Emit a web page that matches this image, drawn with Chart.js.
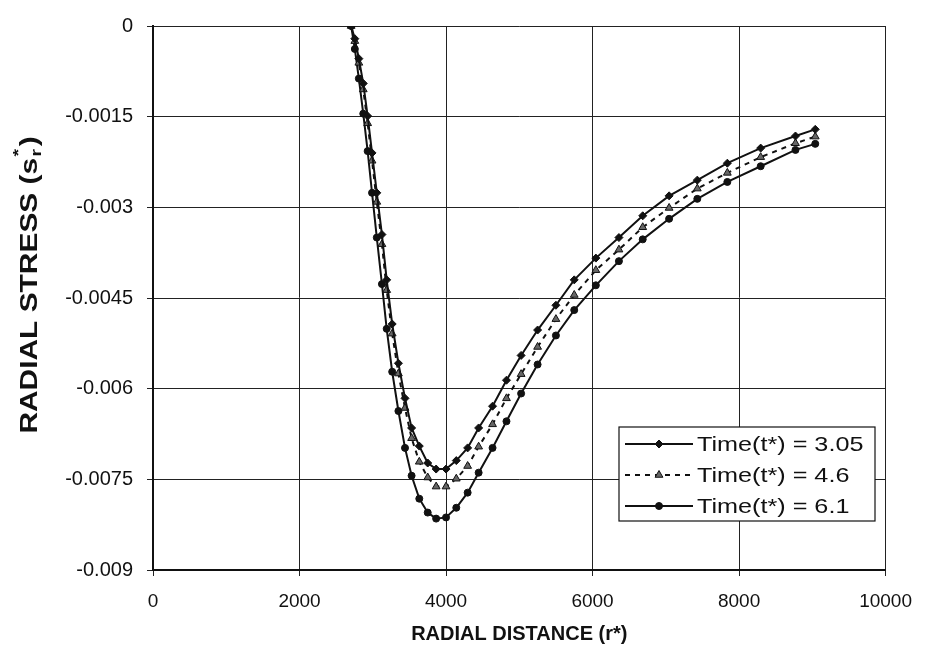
<!DOCTYPE html>
<html>
<head>
<meta charset="utf-8">
<script src="https://cdn.jsdelivr.net/npm/chart.js@4.4.1/dist/chart.umd.min.js"></script>
<style>
  html, body { margin: 0; padding: 0; background: #fff; }
  #wrap { width: 926px; height: 660px; }
</style>
</head>
<body>
<div id="wrap"><canvas id="chart" width="926" height="660"></canvas></div>
<script>
// --- Data ---
const radialDistance = [2705, 2755, 2810, 2870, 2930, 2990, 3055, 3125, 3190, 3265, 3350, 3440, 3530, 3635,
  3750, 3865, 4000, 4140, 4295, 4445, 4635, 4825, 5025, 5250, 5500, 5750, 6045, 6360, 6685, 7045, 7430,
  7840, 8295, 8770, 9040];

const stressT305 = [0, -0.00021, -0.00054, -0.00095, -0.00149, -0.00210, -0.00276, -0.00345, -0.00420,
  -0.00493, -0.00558, -0.00616, -0.00665, -0.00695, -0.00723, -0.00733, -0.00733, -0.00719, -0.00698,
  -0.00665, -0.00629, -0.00586, -0.00545, -0.00503, -0.00462, -0.00420, -0.00384, -0.00350, -0.00314,
  -0.00281, -0.00255, -0.00227, -0.00202, -0.00182, -0.00171];

const stressT46 = [0, -0.00025, -0.00061, -0.00105, -0.00161, -0.00223, -0.00291, -0.00361, -0.00437,
  -0.00509, -0.00575, -0.00632, -0.00682, -0.00721, -0.00747, -0.00762, -0.00762, -0.00749, -0.00728,
  -0.00696, -0.00659, -0.00616, -0.00576, -0.00531, -0.00485, -0.00445, -0.00404, -0.00370, -0.00333,
  -0.00301, -0.00269, -0.00243, -0.00217, -0.00194, -0.00183];

const stressT61 = [0, -0.00038, -0.00087, -0.00145, -0.00207, -0.00276, -0.00350, -0.00427, -0.00501,
  -0.00572, -0.00637, -0.00698, -0.00744, -0.00782, -0.00805, -0.00815, -0.00813, -0.00797, -0.00772,
  -0.00739, -0.00698, -0.00654, -0.00608, -0.00560, -0.00512, -0.00470, -0.00429, -0.00389, -0.00353,
  -0.00319, -0.00286, -0.00258, -0.00232, -0.00205, -0.00195];

const seriesLabels = ['Time(t*) = 3.05', 'Time(t*) = 4.6', 'Time(t*) = 6.1'];
const xTicks = [0, 2000, 4000, 6000, 8000, 10000];
const xTickLabels = ['0', '2000', '4000', '6000', '8000', '10000'];
const yTicks = [0, -0.0015, -0.003, -0.0045, -0.006, -0.0075, -0.009];
const yTickLabels = ['0', '-0.0015', '-0.003', '-0.0045', '-0.006', '-0.0075', '-0.009'];

const FONT = '"Liberation Sans", Arial, sans-serif';
const INK = '#111';

function toPoints(ys) {
  return radialDistance.map((x, i) => ({ x, y: ys[i] }));
}

// --- Series styles ---
const seriesStyles = [
  { pointStyle: 'rectRot', radius: 4, dash: [], fill: INK },
  { pointStyle: 'triangle', radius: 4.5, dash: [5, 5], fill: '#666' },
  { pointStyle: 'circle', radius: 3.5, dash: [], fill: INK }
];

const datasets = [stressT305, stressT46, stressT61].map((ys, i) => ({
  label: seriesLabels[i],
  data: toPoints(ys),
  borderColor: INK,
  borderWidth: 2,
  borderDash: seriesStyles[i].dash,
  pointStyle: seriesStyles[i].pointStyle,
  pointRadius: seriesStyles[i].radius,
  pointBackgroundColor: seriesStyles[i].fill,
  pointBorderColor: INK,
  pointBorderWidth: 1,
  tension: 0,
  fill: false
}));

// --- Y title with subscript / superscript, and the boxed legend ---
const extras = {
  id: 'extras',
  afterDraw(chart) {
    const ctx = chart.ctx;

    // y axis title (the scan's lettering is stretched along the axis)
    ctx.save();
    ctx.translate(31, 285);
    ctx.rotate(-Math.PI / 2);
    ctx.scale(1.3, 1);
    ctx.fillStyle = INK;
    ctx.textBaseline = 'middle';
    const big = 'bold 23px ' + FONT, small = 'bold 15px ' + FONT;
    ctx.font = big;
    const w1 = ctx.measureText('RADIAL STRESS (s').width;
    const w3 = ctx.measureText(')').width;
    ctx.font = small;
    const w2 = ctx.measureText('r').width + 3;
    const x0 = -(w1 + w2 + w3) / 2;
    ctx.font = big;
    ctx.textAlign = 'left';
    ctx.fillText('RADIAL STRESS (s', x0, 0);
    ctx.font = small;
    ctx.fillText('r', x0 + w1 + 1, 6);
    ctx.fillText('*', x0 + w1 + 1, -12);
    ctx.font = big;
    ctx.fillText(')', x0 + w1 + w2, 0);
    ctx.restore();

    // legend
    const box = { x: 619, y: 427, w: 256, h: 94 };
    ctx.save();
    ctx.fillStyle = '#fff';
    ctx.fillRect(box.x, box.y, box.w, box.h);
    ctx.strokeStyle = INK;
    ctx.lineWidth = 1.2;
    ctx.strokeRect(box.x, box.y, box.w, box.h);
    chart.data.datasets.forEach((ds, i) => {
      const y = box.y + 17 + i * 31;
      const st = seriesStyles[i];
      ctx.strokeStyle = INK;
      ctx.lineWidth = 2;
      ctx.setLineDash(st.dash);
      ctx.beginPath();
      ctx.moveTo(box.x + 6, y);
      ctx.lineTo(box.x + 74, y);
      ctx.stroke();
      ctx.setLineDash([]);
      ctx.fillStyle = st.fill;
      ctx.lineWidth = 1;
      Chart.helpers.drawPoint(ctx, { pointStyle: st.pointStyle, radius: st.radius, rotation: 0, borderWidth: 1 }, box.x + 40, y);
      ctx.save();
      ctx.translate(box.x + 78, y + 1);
      ctx.scale(1.2, 1);
      ctx.fillStyle = INK;
      ctx.font = '21px ' + FONT;
      ctx.textAlign = 'left';
      ctx.textBaseline = 'middle';
      ctx.fillText(ds.label, 0, 0);
      ctx.restore();
    });
    ctx.restore();
  }
};

new Chart(document.getElementById('chart').getContext('2d'), {
  type: 'line',
  data: { datasets },
  options: {
    responsive: false,
    animation: false,
    devicePixelRatio: 1,
    layout: { padding: { top: 22, right: 39, bottom: 0, left: 0 } },
    plugins: { legend: { display: false }, tooltip: { enabled: false } },
    scales: {
      x: {
        type: 'linear', min: 0, max: 10000,
        afterBuildTicks: s => { s.ticks = xTicks.map(v => ({ value: v })); },
        afterFit: s => { s.height = 90; },
        ticks: { color: INK, font: { family: FONT, size: 19 }, padding: 14, maxRotation: 0,
                 callback: (v, i) => xTickLabels[i] },
        grid: { color: '#222', lineWidth: 1, tickLength: 6 },
        border: { color: INK, width: 2 },
        title: { display: true, text: 'RADIAL DISTANCE (r*)', color: INK,
                 font: { family: FONT, size: 20, weight: 'bold' }, padding: { top: 0, bottom: 14 } }
      },
      y: {
        type: 'linear', min: -0.009, max: 0,
        afterBuildTicks: s => { s.ticks = yTicks.map(v => ({ value: v })); },
        afterFit: s => { s.width = 153; },
        ticks: { color: INK, font: { family: FONT, size: 20 }, padding: 14,
                 callback: (v, i) => yTickLabels[i] },
        grid: { color: '#222', lineWidth: 1, tickLength: 6 },
        border: { color: INK, width: 2 }
      }
    }
  },
  plugins: [extras]
});
</script>
</body>
</html>
